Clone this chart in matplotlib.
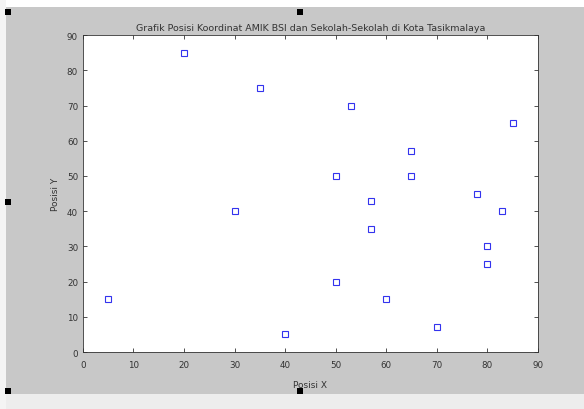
import matplotlib
matplotlib.use("Agg")
import numpy as np
import matplotlib.pyplot as plt
from matplotlib.patches import Rectangle

# school / campus coordinates
posisi_x = [5, 20, 30, 35, 40, 50, 50, 53, 57, 57, 60, 65, 65, 70, 78, 80, 80, 83, 85]
posisi_y = [15, 85, 40, 75, 5, 50, 20, 70, 43, 35, 15, 57, 50, 7, 45, 30, 25, 40, 65]

x_ticks = np.arange(0, 100, 10)
y_ticks = np.arange(0, 100, 10)

judul = "Grafik Posisi Koordinat AMIK BSI dan Sekolah-Sekolah di Kota Tasikmalaya"

fig = plt.figure(figsize=(5.84, 4.10), dpi=100)
fig.patch.set_facecolor("#c8c8c8")

# window strips around the figure area
fig.patches.append(Rectangle((0, 0.98), 1, 0.02, transform=fig.transFigure,
                             facecolor="white", edgecolor="none", zorder=0))
fig.patches.append(Rectangle((0, 0), 1, 0.037, transform=fig.transFigure,
                             facecolor="#ededed", edgecolor="none", zorder=0))
fig.patches.append(Rectangle((0, 0), 0.011, 1, transform=fig.transFigure,
                             facecolor="#f4f4f4", edgecolor="none", zorder=0))

# selection handles
for hx, hy in [(8, 13), (300, 13), (8, 203), (8, 392), (300, 392)]:
    fig.patches.append(Rectangle((hx / 584 - 0.005, 1 - hy / 410 - 0.007), 0.01, 0.014,
                                 transform=fig.transFigure, facecolor="black",
                                 edgecolor="none", zorder=5))

ax = fig.add_axes([0.142, 0.139, 0.779, 0.773])
ax.set_facecolor("white")
ax.plot(posisi_x, posisi_y, "s", markersize=5, markerfacecolor="none",
        markeredgecolor="#3333ee", markeredgewidth=0.8, linestyle="none")

ax.set_xlim(0, 90)
ax.set_ylim(0, 90)
ax.set_xticks(x_ticks)
ax.set_yticks(y_ticks)
ax.tick_params(direction="in", top=True, right=True, labelsize=6.3, length=3,
               width=0.6, colors="#333333")
ax.tick_params(axis="x", pad=6)
for s in ax.spines.values():
    s.set_linewidth(0.6)
    s.set_color("#333333")

ax.set_title(judul, fontsize=6.8, color="#333333", pad=4)
ax.set_xlabel("Posisi X", fontsize=6.5, color="#333333", labelpad=8)
ax.set_ylabel("Posisi Y", fontsize=6.5, color="#333333", labelpad=5)

fig.savefig("out.png", dpi=100, facecolor=fig.get_facecolor())
